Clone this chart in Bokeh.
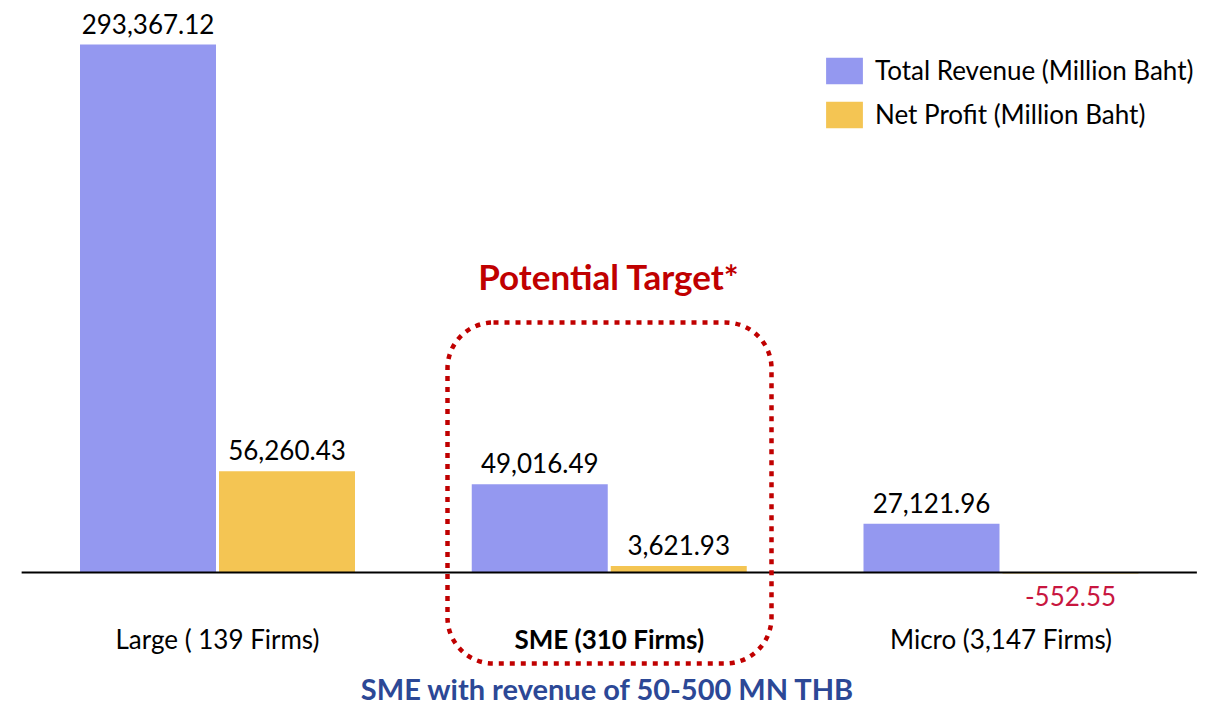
from bokeh.plotting import figure
from bokeh.models import ColumnDataSource, Label, BoxAnnotation, Legend, LegendItem, Range1d
from bokeh.embed import file_html
from bokeh.resources import INLINE
from bokeh.core.properties import value

# ---- data ----
categories = ["Large ( 139 Firms)", "SME (310 Firms)", "Micro (3,147 Firms)"]
category_styles = ["normal", "bold", "normal"]
revenue = [293367.12, 49016.49, 27121.96]
profit = [56260.43, 3621.93, -552.55]
series_names = ["Total Revenue (Million Baht)", "Net Profit (Million Baht)"]
highlight_title = "Potential Target*"
footnote = "SME with revenue of 50-500 MN THB"

# ---- styles ----
REV_COLOR = "#9498F0"
PROF_COLOR = "#F4C553"
RED = "#C00000"
NEG_COLOR = "#C8163F"
BLUE = "#2C4896"
FONT = "Lato"

W, H = 1220, 707
PX = 391.75                 # pixels per category
K = 293367.12 / 528.0       # value units per pixel
X0 = 217                    # screen x of first category
Y0 = 572                    # screen y of baseline

p = figure(width=W, height=H, output_backend="svg", toolbar_location=None,
           x_range=Range1d(-X0 / PX, (W - X0) / PX), y_range=Range1d(-(H - Y0) * K, Y0 * K),
           x_axis_location=None, y_axis_location=None, min_border=0)
p.grid.visible = False
p.outline_line_color = None
p.background_fill_color = "white"

xs = list(range(len(categories)))
off = 69.5 / PX
bw = 136 / PX

src = ColumnDataSource(dict(
    x=xs,
    xr=[x - off for x in xs],
    xp=[x + off for x in xs],
    rev=revenue,
    prof=profit,
    rev_lbl=["{:,.2f}".format(v) for v in revenue],
    prof_lbl=["{:,.2f}".format(v) for v in profit],
    prof_col=["black" if v >= 0 else NEG_COLOR for v in profit],
    prof_off=[-21 if v >= 0 else 23 for v in profit],
    cat=categories,
    cat_style=category_styles,
    zero=[0] * len(xs),
))

r1 = p.vbar(x="xr", top="rev", bottom=0, width=bw, fill_color=REV_COLOR,
            line_color=None, source=src)
r2 = p.vbar(x="xp", top="prof", bottom=0, width=bw, fill_color=PROF_COLOR,
            line_color=None, source=src)

# baseline
p.segment(x0=-0.5, y0=0, x1=2.5, y1=0, line_color="black", line_width=2)

# value labels
p.text(x="xr", y="rev", text="rev_lbl", source=src, text_align="center",
       text_baseline="middle", y_offset=-21, text_font=value(FONT),
       text_font_size="26px", text_color="black")
p.text(x="xp", y="prof", text="prof_lbl", source=src, text_align="center",
       text_baseline="middle", y_offset="prof_off", text_font=value(FONT),
       text_font_size="26px", text_color="prof_col")

# category labels
p.text(x="x", y="zero", text="cat", source=src, text_align="center",
       text_baseline="middle", y_offset=66, text_font=value(FONT),
       text_font_size="26px", text_font_style="cat_style", text_color="black")

# highlight box
box = BoxAnnotation(left=(447 - X0) / PX, right=(771 - X0) / PX,
                    top=(Y0 - 322) * K, bottom=-(663 - Y0) * K,
                    border_radius=46, fill_alpha=0, line_color=RED, line_alpha=1,
                    line_width=4.5, line_dash="5 6")
p.add_layout(box)

p.add_layout(Label(x=608.5, y=H - 289 + 14, x_units="screen", y_units="screen",
                   text=highlight_title, text_align="center", text_baseline="alphabetic",
                   text_font=FONT, text_font_style="bold", text_font_size="35px",
                   text_color=RED))
p.add_layout(Label(x=607.5, y=H - 703 + 15, x_units="screen", y_units="screen",
                   text=footnote, text_align="center", text_baseline="alphabetic",
                   text_font=FONT, text_font_style="bold", text_font_size="29px",
                   text_color=BLUE))

legend = Legend(items=[LegendItem(label=series_names[0], renderers=[r1]),
                       LegendItem(label=series_names[1], renderers=[r2])],
                location=(821, H - 130.5), orientation="vertical",
                glyph_width=46, glyph_height=33, label_height=33, spacing=11,
                label_standoff=8, padding=0, margin=0, border_line_color=None,
                background_fill_alpha=0, label_text_font=FONT,
                label_text_font_size="26px", label_text_color="black",
                label_text_baseline="middle")
p.add_layout(legend)

open("out.html", "w").write(file_html(p, INLINE))
